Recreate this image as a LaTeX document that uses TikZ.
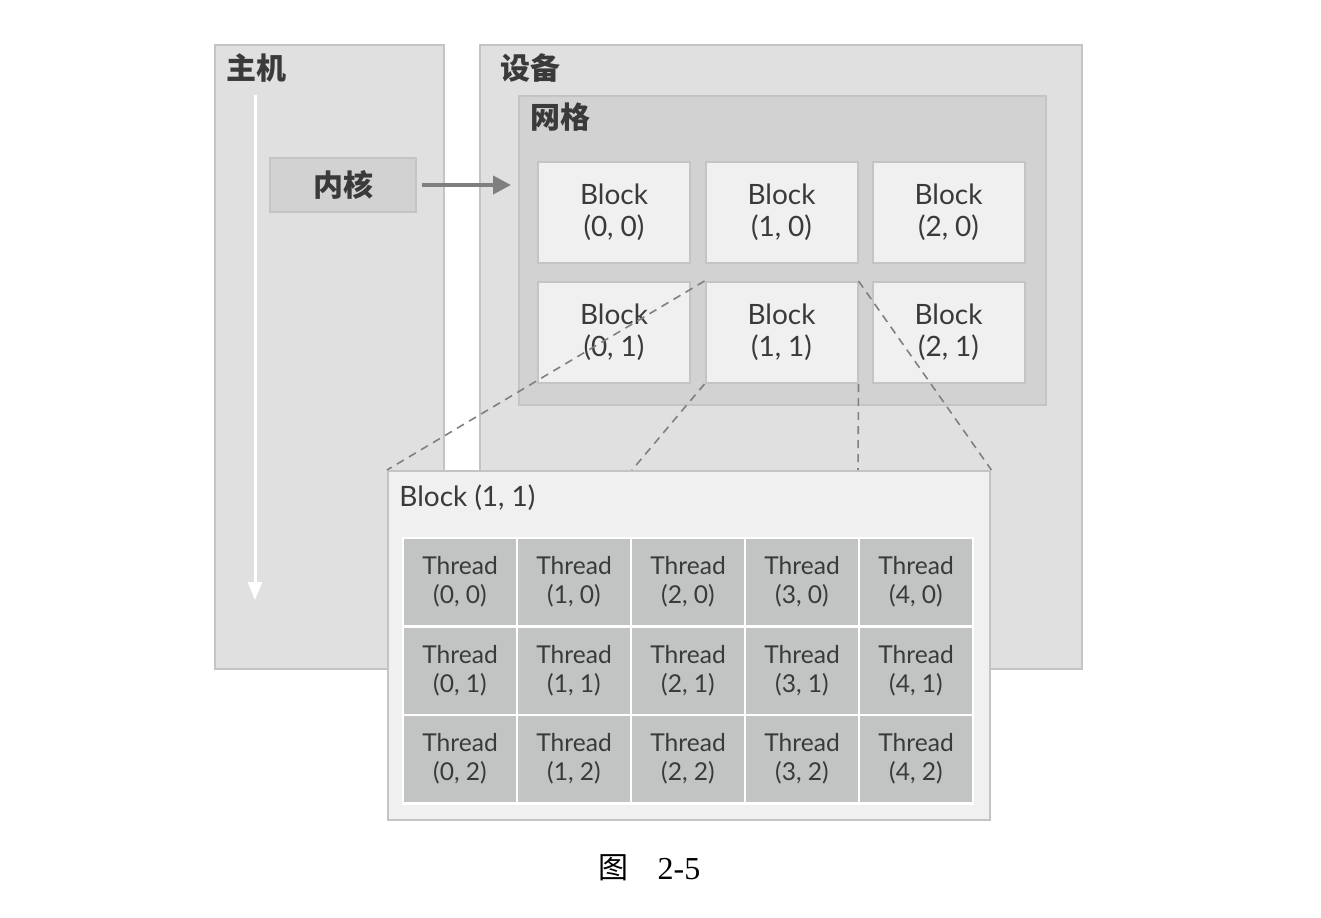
\documentclass[tikz,border=0pt]{standalone}
\usepackage{fontspec}
\setmainfont{Liberation Serif}
\setsansfont{Lato}
\newfontfamily\cjk{Noto Sans CJK SC}
\usetikzlibrary{arrows.meta}
\definecolor{hostfill}{HTML}{E0E0E0}
\definecolor{boxline}{HTML}{C4C4C4}
\definecolor{gridfill}{HTML}{D2D2D2}
\definecolor{blockfill}{HTML}{F0F0F0}
\definecolor{thfill}{HTML}{C2C4C4}
\definecolor{txt}{HTML}{3A3A3A}
\definecolor{arrowgray}{HTML}{7F7F7F}
\definecolor{dashgray}{HTML}{808080}
\tikzset{
  panel/.style={draw=boxline, line width=1.2pt, fill=hostfill},
  gridbox/.style={draw=boxline, line width=1.2pt, fill=gridfill},
  blk/.style={draw=boxline, line width=1pt, fill=blockfill, minimum width=76pt, minimum height=50.5pt, inner sep=0pt, align=center, text=txt, font=\sffamily\fontsize{14}{16}\selectfont},
  th/.style={draw=white, line width=1.2pt, fill=thfill, minimum width=57pt, minimum height=44.3pt, inner sep=0pt, align=center, text=txt, font=\sffamily\fontsize{12.3}{14.5}\selectfont},
  lbl/.style={anchor=west, text=txt, font=\cjk\bfseries\fontsize{15}{18}\selectfont, inner sep=0pt},
  zoomline/.style={dashed, dash pattern=on 4pt off 3pt, draw=dashgray, line width=0.8pt}
}
\begin{document}
\begin{tikzpicture}[x=0.5pt,y=-0.5pt]
\useasboundingbox (0,0) rectangle (1321,917);
\fill[white] (0,0) rectangle (1321,917);
% host
\node[panel, minimum width=114.5pt, minimum height=312pt, anchor=north west, inner sep=0pt] (host) at (214,44) {};
\node[lbl] (hostlbl) at (226,68) {主机};
\coordinate (tstart) at (255,95);
\coordinate (tend) at (255,600);
\draw[white, line width=1.5pt, -{Triangle[width=7pt,length=9pt]}] (tstart) -- (tend);
\node[draw=boxline, line width=1pt, fill=gridfill, minimum width=73pt, minimum height=27pt, inner sep=0pt, text=txt, font=\cjk\bfseries\fontsize{15}{18}\selectfont] (kernel) at (343,185) {内核};
% device
\node[panel, minimum width=301pt, minimum height=312pt, anchor=north west, inner sep=0pt] (device) at (479,44) {};
\node[lbl] (devlbl) at (500,68) {设备};
\node[gridbox, minimum width=263.5pt, minimum height=154.5pt, anchor=north west, inner sep=0pt] (grid) at (518,95) {};
\node[lbl] (gridlbl) at (530,117) {网格};
\coordinate (arrowend) at (511,185);
\draw[arrowgray, line width=2pt, -{Triangle[width=9pt,length=9pt]}] (kernel.east) ++(5,0) coordinate (arrowstart) -- (arrowend);
% blocks
\node[blk] (b00) at (614,212) {Block\\(0, 0)};
\node[blk] (b10) at (781.5,212) {Block\\(1, 0)};
\node[blk] (b20) at (948.5,212) {Block\\(2, 0)};
\node[blk] (b01) at (614,332.5) {Block\\(0, 1)};
\node[blk] (b11) at (781.5,332.5) {Block\\(1, 1)};
\node[blk] (b21) at (948.5,332.5) {Block\\(2, 1)};
% detail box
\node[draw=boxline, line width=1.2pt, fill=blockfill, minimum width=301pt, minimum height=174.5pt, anchor=north west, inner sep=0pt] (detail) at (387,470) {};
\node[anchor=west, text=txt, font=\sffamily\fontsize{14}{16}\selectfont, inner sep=0pt] (detlbl) at (399,498) {Block (1, 1)};
% zoom lines
\coordinate (d1) at (632,470);
\coordinate (d2) at (858,470);
\draw[zoomline] (b11.north west) -- (detail.north west);
\draw[zoomline] (b11.south west) -- (d1);
\draw[zoomline] (b11.south east) -- (d2);
\draw[zoomline] (b11.north east) -- (detail.north east);
% threads
\foreach \c in {0,...,4} {
  \foreach \r in {0,...,2} {
    \node[th] (t\c\r) at ({460+\c*114},{582+\r*88.6}) {Thread\\(\c, \r)};
  }
}
% caption
\node[font=\cjk\fontsize{15}{18}\selectfont, inner sep=0pt] (capfig) at (613,868) {图};
\node[font=\fontsize{16}{18}\selectfont, inner sep=0pt] (capnum) at (679,869) {2-5};
\end{tikzpicture}
\end{document}
